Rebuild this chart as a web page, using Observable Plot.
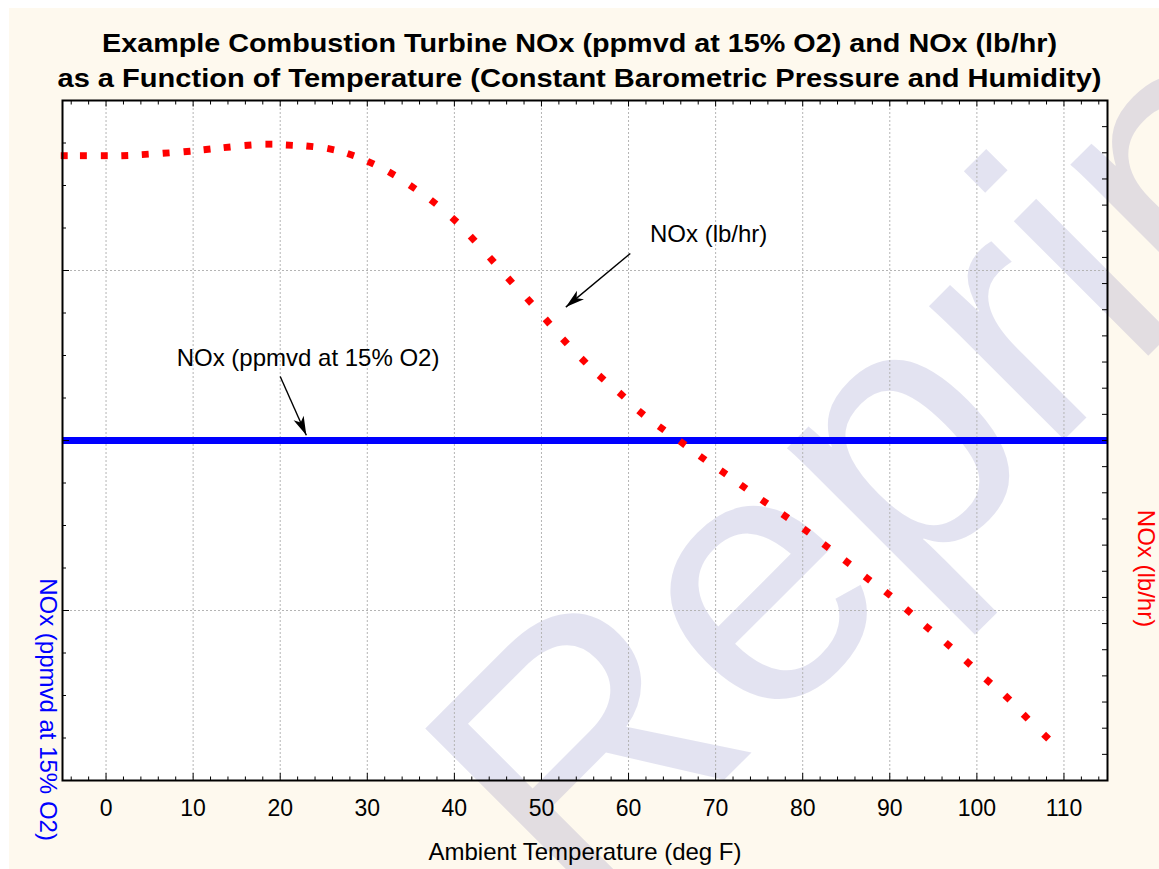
<!DOCTYPE html>
<html><head><meta charset="utf-8">
<script src="https://cdn.jsdelivr.net/npm/d3@7"></script>
<script src="https://cdn.jsdelivr.net/npm/@observablehq/plot@0.6"></script>
<style>
html,body{margin:0;padding:0;background:#fff;}
#wrap{position:relative;width:1159px;height:869px;overflow:hidden;}
#panel{position:absolute;left:9px;top:8px;width:1150px;height:861px;background:#FEF9EE;}
#title{position:absolute;left:0;top:0;width:1159px;height:92px;font-family:"Liberation Sans",Arial,sans-serif;font-weight:bold;font-size:25px;color:#000;}
.tline{position:absolute;left:0;width:1159px;height:30px;line-height:30px;text-align:center;white-space:nowrap;transform-origin:50% 50%;}
#chart{position:absolute;left:0;top:92px;}
</style></head><body>
<div id="wrap">
  <div id="panel"></div>
  <div id="title">
    <div class="tline" id="t1" style="top:28px"></div>
    <div class="tline" id="t2" style="top:63px"></div>
  </div>
  <div id="chart"></div>
</div>
<script>
// ---------- data ----------
const titleLines = [
  "Example Combustion Turbine NOx (ppmvd at 15% O2) and NOx (lb/hr)",
  "as a Function of Temperature (Constant Barometric Pressure and Humidity)"
];
const xAxisTitle = "Ambient Temperature (deg F)";
const leftAxisTitle = "NOx (ppmvd at 15% O2)";
const rightAxisTitle = "NOx (lb/hr)";
const watermarkText = "Reprint";

// NOx (lb/hr) series: ambient temperature (deg F) and emission rate
const temps = [-4.8, -2.6, -0.2, 2.15, 4.5, 6.9, 9.3, 11.6, 13.9, 16.3,
  18.7, 21.05, 23.4, 25.8, 28.1, 30.4, 32.8, 35.2, 37.6, 40.0,
  42.1, 44.3, 46.4, 48.6, 50.7, 52.7, 54.85, 56.9, 59.2, 61.45,
  63.8, 66.2, 68.5, 70.9, 73.2, 75.6, 78.0, 80.4, 82.7, 85.1,
  87.45, 89.8, 92.15, 94.35, 96.7, 99.0, 101.3, 103.5, 105.6, 107.95];
const noxLbHr = [43.89, 43.89, 43.89, 43.89, 43.94, 43.99, 44.05, 44.13, 44.21, 44.29,
  44.33, 44.29, 44.25, 44.14, 43.93, 43.62, 43.21, 42.69, 42.12, 41.44,
  40.72, 39.91, 39.12, 38.34, 37.55, 36.79, 36.05, 35.40, 34.75, 34.06,
  33.47, 32.90, 32.33, 31.78, 31.23, 30.66, 30.11, 29.55, 28.96, 28.35,
  27.72, 27.14, 26.48, 25.84, 25.19, 24.50, 23.80, 23.17, 22.44, 21.68];

// NOx (ppmvd at 15% O2) series: constant
const ppmTemps = [-5, 115];
const noxPpm = [9, 9];

// axes
const xDomain = [-5, 115];
const lbDomain = [20, 46];
const ppmDomain = [5, 13];
const xMajorTicks = [0, 10, 20, 30, 40, 50, 60, 70, 80, 90, 100, 110];
const xTickLabels = ["0", "10", "20", "30", "40", "50", "60", "70", "80", "90", "100", "110"];
const xMinorTicks = [-4, -2, 2, 4, 6, 8, 12, 14, 16, 18, 22, 24, 26, 28, 32, 34, 36, 38, 42, 44, 46, 48,
  52, 54, 56, 58, 62, 64, 66, 68, 72, 74, 76, 78, 82, 84, 86, 88, 92, 94, 96, 98, 102, 104, 106, 108, 112, 114];
const ppmMajorTicks = [5, 7, 9, 11, 13];
const ppmMinorTicks = [5.5, 6, 6.5, 7.5, 8, 8.5, 9.5, 10, 10.5, 11.5, 12, 12.5];
const lbTicks = [20,21,22,23,24,25,26,27,28,29,30,31,32,33,34,35,36,37,38,39,40,41,42,43,44,45,46];

// annotations (data units: deg F, lb/hr)
const annotationLabels = ["NOx (lb/hr)", "NOx (ppmvd at 15% O2)"];
const annotationTemp = [69.2, 23.2];
const annotationLb = [40.9, 36.15];
const arrowFromTemp = [60.2, 20.0];
const arrowFromLb = [40.15, 35.45];
const arrowToTemp = [52.8, 23.0];
const arrowToLb = [38.1, 33.2];

// ---------- layout ----------
const W = 1159, H = 777, mL = 62, mR = 52, mT = 8, mB = 89;
const FONT = "'Liberation Sans', Arial, Helvetica, sans-serif";

// title (stretched to the reference width)
const tEls = [document.getElementById("t1"), document.getElementById("t2")];
const targetW = [955, 1044];
const cv = document.createElement("canvas").getContext("2d");
cv.font = "bold 25px 'Liberation Sans'";
tEls.forEach((el, i) => {
  el.textContent = titleLines[i];
  const w = cv.measureText(titleLines[i]).width;
  el.style.transform = `scaleX(${targetW[i] / w})`;
});

const ppmToLb = d3.scaleLinear(ppmDomain, lbDomain);
const sx = Plot.scale({x: {domain: xDomain, range: [mL, W - mR]}});
const sy = Plot.scale({y: {domain: lbDomain, range: [H - mB, mT]}});

const pts = temps.map((t, i) => ({t, v: noxLbHr[i], px: sx.apply(t), py: sy.apply(noxLbHr[i])}));
pts.forEach((p, i) => {
  const a = pts[Math.max(0, i - 1)], b = pts[Math.min(pts.length - 1, i + 1)];
  p.rot = Math.atan2(b.py - a.py, b.px - a.px) * 180 / Math.PI;
});
const ppmLine = ppmTemps.map((t, i) => ({t, v: ppmToLb(noxPpm[i])}));

const annotations = annotationLabels.map((label, i) => ({label, t: annotationTemp[i], v: annotationLb[i]}));
const arrows = arrowFromTemp.map((t, i) => {
  const a = {x1: t, y1: arrowFromLb[i], x2: arrowToTemp[i], y2: arrowToLb[i]};
  const dx = sx.apply(a.x2) - sx.apply(a.x1), dy = sy.apply(a.y2) - sy.apply(a.y1);
  a.rot = Math.atan2(dx, -dy) * 180 / Math.PI;
  return a;
});
const arrowHead = {draw(ctx) {
  ctx.moveTo(0, 0); ctx.lineTo(5.5, 19); ctx.lineTo(0, 14); ctx.lineTo(-5.5, 19); ctx.closePath();
}};

const grid = {stroke: "#b4b4b4", strokeOpacity: 1, strokeWidth: 1, strokeDasharray: "2,2"};

const chart = Plot.plot({
  width: W, height: H,
  marginLeft: mL, marginRight: mR, marginTop: mT, marginBottom: mB,
  x: {domain: xDomain},
  y: {domain: lbDomain},
  style: {background: "transparent", overflow: "visible", fontFamily: FONT, fontSize: "23px", color: "black"},
  marks: [
    Plot.frame({fill: "white", stroke: null}),
    Plot.text([watermarkText], {text: d => d, frameAnchor: "top-left", dx: 517, dy: 824, rotate: -45,
      textAnchor: "start", lineAnchor: "bottom", fontSize: 360, fill: "#000080", fillOpacity: 0.11}),
    Plot.gridX(xMajorTicks, grid),
    Plot.gridY([7, 9, 11].map(ppmToLb), grid),
    Plot.line(ppmLine, {x: "t", y: "v", stroke: "#0000ff", strokeWidth: 7, strokeLinecap: "butt"}),
    Plot.dot(pts, {x: "t", y: "v", symbol: "square", r: 3.9, fill: "#ff0000", stroke: null, rotate: "rot"}),
    Plot.link(arrows, {x1: "x1", y1: "y1", x2: "x2", y2: "y2", stroke: "black", strokeWidth: 1.4}),
    Plot.dot(arrows, {x: "x2", y: "y2", symbol: arrowHead, r: 5, fill: "black", stroke: null, rotate: "rot"}),
    Plot.text(annotations, {x: "t", y: "v", text: "label", fontSize: 24, fill: "black"}),
    // axes
    Plot.axisX(xMinorTicks, {anchor: "bottom", tickSize: -3.5, fill: "none", label: null}),
    Plot.axisX(xMajorTicks, {anchor: "bottom", tickSize: -7, tickPadding: 26, label: null, fontSize: 23,
      tickFormat: d => xTickLabels[xMajorTicks.indexOf(d)]}),
    Plot.axisX(xMinorTicks, {anchor: "top", tickSize: -3.5, fill: "none", label: null}),
    Plot.axisX(xMajorTicks, {anchor: "top", tickSize: -5.5, fill: "none", label: null}),
    Plot.axisY(ppmMinorTicks.map(ppmToLb), {anchor: "left", tickSize: -4, fill: "none", label: null}),
    Plot.axisY(ppmMajorTicks.map(ppmToLb), {anchor: "left", tickSize: -7, fill: "none", label: null}),
    Plot.axisY(lbTicks, {anchor: "right", tickSize: -6, fill: "none", label: null}),
    // axis titles
    Plot.text([xAxisTitle], {text: d => d, frameAnchor: "bottom", dy: 72, lineAnchor: "middle", fontSize: 24, fill: "black"}),
    Plot.text([leftAxisTitle], {text: d => d, frameAnchor: "left", dx: -14.5, dy: 269, rotate: 90, textAnchor: "middle", lineAnchor: "middle", fontSize: 24, fill: "#0000ff"}),
    Plot.text([rightAxisTitle], {text: d => d, frameAnchor: "right", dx: 38.5, dy: 128, rotate: 90, textAnchor: "middle", lineAnchor: "middle", fontSize: 24, fill: "#ff0000"}),
    Plot.frame({stroke: "black", strokeWidth: 2})
  ]
});
document.getElementById("chart").appendChild(chart);
</script>
</body></html>
